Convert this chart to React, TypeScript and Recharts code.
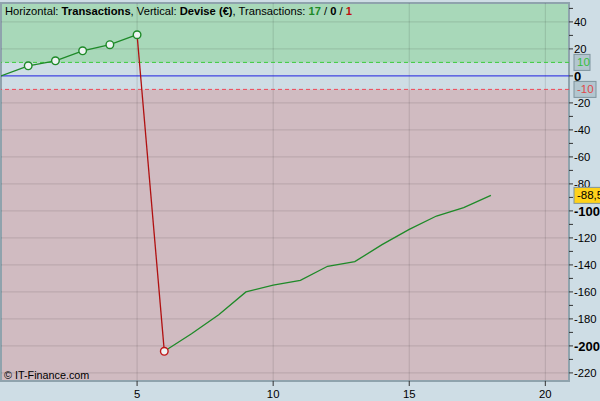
import {
  ComposedChart, Line, XAxis, YAxis,
  ReferenceArea, ReferenceLine,
} from "recharts";

const TRADES = [0, 1, 2, 3, 4, 5, 6, 7, 8, 9, 10, 11, 12, 13, 14, 15, 16, 17, 18];
const BALANCE = [
  0, 7.5, 11.2, 18.6, 23.1, 30.5, -204, -191, -177, -160,
  -155, -151.5, -141, -137.6, -125, -113.7, -103.8, -97.6, -88.5,
];
const LOSS_INDEX = 6;

const X_TICKS = [5, 10, 15, 20];
const Y_MAJOR = [40, 20, 0, -20, -40, -60, -80, -100, -120, -140, -160, -180, -200, -220];
const Y_MINOR = [50, 30, -30, -50, -70, -90, -110, -130, -150, -170, -190, -210];
const GRID_Y = [40, 20, -20, -40, -60, -80, -100, -120, -140, -160, -180, -200, -220];

const UPPER = 10;
const LOWER = -10;
const LAST = BALANCE[BALANCE.length - 1];

const X_DOMAIN = [0, 20.87];
const Y_DOMAIN = [-226, 54];

const rows = TRADES.map((x, i) => ({
  x,
  up: i <= 5 ? BALANCE[i] : null,
  drop: i === 5 || i === LOSS_INDEX ? BALANCE[i] : null,
  rec: i >= LOSS_INDEX ? BALANCE[i] : null,
  mk: i >= 1 && i <= LOSS_INDEX ? BALANCE[i] : null,
}));

const FONT = '"Liberation Sans", Arial, sans-serif';

const Marker = ({ cx, cy, index, payload }: any) => {
  if (payload?.mk == null) return <g key={index} />;
  const red = index === LOSS_INDEX;
  return (
    <circle
      key={index}
      cx={cx}
      cy={cy}
      r={3.8}
      fill="#eef3f3"
      stroke={red ? "#c01818" : "#1e8a28"}
      strokeWidth={1.4}
    />
  );
};

const Tag = ({ x, y, text, color, fill, w }: any) => (
  <g>
    <rect x={x + 5} y={y - 8} width={w} height={16} fill={fill} stroke="#7f949e" strokeWidth={1} />
    <text x={x + 8} y={y} dy="0.35em" fontSize={11.5} fill={color} fontFamily={FONT}>
      {text}
    </text>
  </g>
);

const YTick = ({ x, y, payload }: any) => {
  const v = payload.value;
  if (v === UPPER) return <Tag x={x} y={y} text="10" color="#33c040" fill="#b3c6cf" w={16} />;
  if (v === LOWER) return <Tag x={x} y={y} text="-10" color="#e04848" fill="#b3c6cf" w={22} />;
  if (v === LAST) return <Tag x={x} y={y} text="-88,5" color="#000" fill="#ffd21a" w={32} />;
  const major = Y_MAJOR.includes(v);
  const bold = v % 100 === 0;
  return (
    <g>
      <line x1={x} x2={x + 4} y1={y} y2={y} stroke="#333" />
      {major && (
        <text
          x={x + 5}
          y={y}
          dy="0.36em"
          fontSize={bold ? 13 : 11.3}
          fontWeight={bold ? 700 : 400}
          fill="#000"
          fontFamily={FONT}
        >
          {v}
        </text>
      )}
    </g>
  );
};

export default function App() {
  return (
    <div style={{ position: "relative", width: 600, height: 401, background: "#cedde5", fontFamily: FONT }}>
      <style>{"body{margin:0}"}</style>
      <ComposedChart
        width={600}
        height={401}
        data={rows}
        margin={{ top: 3, right: 0, bottom: 0, left: 1 }}
      >
        <XAxis
          dataKey="x"
          type="number"
          domain={X_DOMAIN}
          allowDataOverflow
          ticks={X_TICKS}
          axisLine={false}
          tickSize={5}
          tickMargin={4}
          tickLine={{ stroke: "#333" }}
          tick={{ fontSize: 11.3, fill: "#000", fontFamily: FONT }}
          height={20}
        />
        <YAxis
          orientation="right"
          type="number"
          domain={Y_DOMAIN}
          allowDataOverflow
          ticks={[...Y_MAJOR, ...Y_MINOR, UPPER, LOWER, LAST]}
          interval={0}
          axisLine={false}
          tickLine={false}
          tickSize={0}
          tickMargin={0}
          tick={<YTick />}
          width={31}
        />
        <ReferenceArea y1={UPPER} y2={Y_DOMAIN[1]} fill="#a8d8b9" fillOpacity={1} stroke="none" />
        <ReferenceArea y1={Y_DOMAIN[0]} y2={LOWER} fill="#d0bbc1" fillOpacity={1} stroke="none" />
        {GRID_Y.map((v) => (
          <ReferenceLine key={"gy" + v} y={v} stroke="#000" strokeOpacity={0.12} />
        ))}
        {X_TICKS.map((v) => (
          <ReferenceLine key={"gx" + v} x={v} stroke="#000" strokeOpacity={0.12} />
        ))}
        <ReferenceLine y={UPPER} stroke="#3ccc3c" strokeDasharray="4 3" />
        <ReferenceLine y={LOWER} stroke="#f04858" strokeDasharray="4 3" />
        <ReferenceLine y={0} stroke="#1e1ee0" />
        <Line dataKey="rec" stroke="#1e8a28" strokeWidth={1.3} dot={false} isAnimationActive={false} />
        <Line dataKey="drop" stroke="#b01010" strokeWidth={1.3} dot={false} isAnimationActive={false} />
        <Line dataKey="up" stroke="#1e8a28" strokeWidth={1.3} dot={false} isAnimationActive={false} />
        <Line
          dataKey="mk"
          stroke="none"
          dot={<Marker />}
          activeDot={false}
          isAnimationActive={false}
        />
        <ReferenceArea
          x1={X_DOMAIN[0]}
          x2={X_DOMAIN[1]}
          y1={Y_DOMAIN[0]}
          y2={Y_DOMAIN[1]}
          fill="none"
          stroke="#8fa3ad"
          strokeWidth={2}
        />
      </ComposedChart>
      <div style={{ position: "absolute", left: 5, top: 5, fontSize: 11.2, color: "#000", whiteSpace: "nowrap" }}>
        Horizontal: <b>Transactions</b>, Vertical: <b>Devise (€)</b>, Transactions:{" "}
        <b style={{ color: "#1e8a28" }}>17</b> / <b>0</b> / <b style={{ color: "#c01010" }}>1</b>
      </div>
      <div style={{ position: "absolute", left: 4, top: 369, fontSize: 10.8, color: "#000", whiteSpace: "nowrap" }}>
        © IT-Finance.com
      </div>
    </div>
  );
}
